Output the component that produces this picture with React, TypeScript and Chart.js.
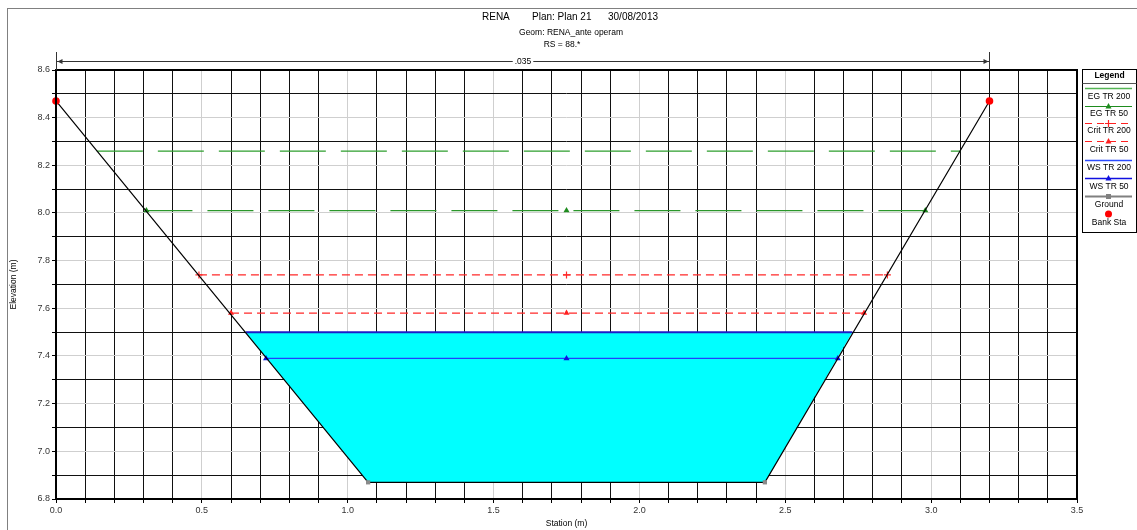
import React, { useEffect, useRef } from "react";
import { Chart, registerables } from "chart.js";

Chart.register(...registerables);

// ---- data ----
const groundStation = [0.0, 1.07, 2.43, 3.2];
const groundElev = [8.47, 6.87, 6.87, 8.47];
const bankStation = [0.0, 3.2];
const bankElev = [8.47, 8.47];
const wsTR200Station = [0.65, 2.73];
const wsTR200Elev = [7.5, 7.5];
const wsTR50Station = [0.72, 1.75, 2.68];
const wsTR50Elev = [7.39, 7.39, 7.39];
const critTR200Station = [0.49, 1.75, 2.85];
const critTR200Elev = [7.74, 7.74, 7.74];
const critTR50Station = [0.6, 1.75, 2.77];
const critTR50Elev = [7.58, 7.58, 7.58];
const egTR200Station = [0.14, 1.75, 3.1];
const egTR200Elev = [8.26, 8.26, 8.26];
const egTR50Station = [0.31, 1.75, 2.98];
const egTR50Elev = [8.01, 8.01, 8.01];
const manningN = ".035";
const titleParts = ["RENA", "Plan: Plan 21", "30/08/2013"];
const subtitle1 = "Geom: RENA_ante operam";
const subtitle2 = "RS = 88.*";
const xTitle = "Station (m)";
const yTitle = "Elevation (m)";
const legendLabels = ["EG TR 200", "EG TR 50", "Crit TR 200", "Crit TR 50", "WS TR 200", "WS TR 50", "Ground", "Bank Sta"];

const pts = (xs: number[], ys: number[]) => xs.map((x, i) => ({ x, y: ys[i] }));

const FONT = "'Liberation Sans', Arial, sans-serif";

const isMult = (v: number, m: number) => Math.abs(v / m - Math.round(v / m)) < 1e-6;

const overlay = {
  id: "overlay",
  beforeDraw(chart: any) {
    const ctx = chart.ctx;
    ctx.save();
    ctx.fillStyle = "#fff";
    ctx.fillRect(0, 0, chart.width, chart.height);
    ctx.restore();
  },
  afterDraw(chart: any) {
    const ctx = chart.ctx as CanvasRenderingContext2D;
    const { left, right, top, bottom } = chart.chartArea;
    const xs = chart.scales.x;
    ctx.save();
    // outer frame
    ctx.strokeStyle = "#808080";
    ctx.lineWidth = 1;
    ctx.strokeRect(7.5, 8.5, 1300, 700);
    // plot border
    ctx.strokeStyle = "#000";
    ctx.lineWidth = 2;
    ctx.strokeRect(left, top, right - left, bottom - top);

    // titles
    ctx.fillStyle = "#000";
    ctx.textBaseline = "middle";
    ctx.textAlign = "left";
    ctx.font = `10px ${FONT}`;
    ctx.fillText(titleParts[0], 482, 17);
    ctx.fillText(titleParts[1], 532, 17);
    ctx.fillText(titleParts[2], 608, 17);
    ctx.textAlign = "center";
    ctx.font = `8.5px ${FONT}`;
    ctx.fillText(subtitle1, 571, 33);
    ctx.fillText(subtitle2, 562, 45);

    // axis titles
    ctx.font = `8.5px ${FONT}`;
    ctx.fillText(xTitle, (left + right) / 2, 524);
    ctx.save();
    ctx.translate(14, (top + bottom) / 2);
    ctx.rotate(-Math.PI / 2);
    ctx.fillText(yTitle, 0, 0);
    ctx.restore();

    // Manning's n arrow between bank stations
    const xl = Math.round(xs.getPixelForValue(bankStation[0])) + 0.5;
    const xr = Math.round(xs.getPixelForValue(bankStation[1])) + 0.5;
    const ya = 61.5;
    ctx.strokeStyle = "#333";
    ctx.lineWidth = 1;
    ctx.beginPath();
    ctx.moveTo(xl, 52);
    ctx.lineTo(xl, top);
    ctx.moveTo(xr, 52);
    ctx.lineTo(xr, top);
    ctx.moveTo(xl, ya);
    ctx.lineTo(xr, ya);
    ctx.stroke();
    ctx.fillStyle = "#333";
    ctx.beginPath();
    ctx.moveTo(xl + 1, ya);
    ctx.lineTo(xl + 6, ya - 2.5);
    ctx.lineTo(xl + 6, ya + 2.5);
    ctx.closePath();
    ctx.moveTo(xr - 1, ya);
    ctx.lineTo(xr - 6, ya - 2.5);
    ctx.lineTo(xr - 6, ya + 2.5);
    ctx.closePath();
    ctx.fill();
    const cx = (xl + xr) / 2;
    ctx.font = `8.5px ${FONT}`;
    const tw = ctx.measureText(manningN).width;
    ctx.fillStyle = "#fff";
    ctx.fillRect(cx - tw / 2 - 2, ya - 4, tw + 4, 8);
    ctx.fillStyle = "#000";
    ctx.textAlign = "center";
    ctx.fillText(manningN, cx, ya + 0.5);

    // legend box
    const bx = 1082.5, by = 69.5, bw = 54, bh = 163;
    ctx.fillStyle = "#fff";
    ctx.fillRect(bx, by, bw, bh);
    ctx.strokeStyle = "#000";
    ctx.lineWidth = 1;
    ctx.strokeRect(bx, by, bw, bh);
    ctx.fillStyle = "#000";
    ctx.font = `bold 8.5px ${FONT}`;
    ctx.fillText("Legend", bx + bw / 2, 76);
    ctx.strokeStyle = "#555";
    ctx.beginPath();
    ctx.moveTo(bx, 83.5);
    ctx.lineTo(bx + bw, 83.5);
    ctx.stroke();

    const lx0 = 1085, lx1 = 1132, lcx = 1108.5;
    const lineYs = [88, 106, 123, 141, 160, 178, 196, 214];
    const textYs = [97, 114, 131, 150, 168, 187, 205, 223];
    const tri = (x: number, y: number, c: string) => {
      ctx.fillStyle = c;
      ctx.beginPath();
      ctx.moveTo(x, y - 3);
      ctx.lineTo(x + 3, y + 2.5);
      ctx.lineTo(x - 3, y + 2.5);
      ctx.closePath();
      ctx.fill();
    };
    const seg = (y: number, c: string, w: number, dash: number[]) => {
      ctx.strokeStyle = c;
      ctx.lineWidth = w;
      ctx.setLineDash(dash);
      ctx.beginPath();
      ctx.moveTo(lx0, y + 0.5);
      ctx.lineTo(lx1, y + 0.5);
      ctx.stroke();
      ctx.setLineDash([]);
    };
    seg(lineYs[0], "#55b555", 1.5, []);
    seg(lineYs[1], "#1e8c1e", 1.2, []);
    tri(lcx, lineYs[1], "#1e8c1e");
    seg(lineYs[2], "#ff2020", 1.2, [7, 5]);
    ctx.strokeStyle = "#ff2020";
    ctx.lineWidth = 1.2;
    ctx.beginPath();
    ctx.moveTo(lcx, lineYs[2] - 3);
    ctx.lineTo(lcx, lineYs[2] + 4);
    ctx.moveTo(lcx - 3.5, lineYs[2] + 0.5);
    ctx.lineTo(lcx + 3.5, lineYs[2] + 0.5);
    ctx.stroke();
    seg(lineYs[3], "#ff2020", 1.2, [7, 5]);
    tri(lcx, lineYs[3], "#ff2020");
    seg(lineYs[4], "#2b4bff", 1.5, []);
    seg(lineYs[5], "#1010e0", 1.5, []);
    tri(lcx, lineYs[5], "#1010e0");
    seg(lineYs[6], "#808080", 2, []);
    ctx.fillStyle = "#808080";
    ctx.fillRect(lcx - 2.5, lineYs[6] - 2, 5, 5);
    ctx.fillStyle = "#ff0000";
    ctx.beginPath();
    ctx.arc(lcx, lineYs[7], 3.5, 0, Math.PI * 2);
    ctx.fill();

    ctx.fillStyle = "#000";
    ctx.font = `8.5px ${FONT}`;
    ctx.textAlign = "center";
    legendLabels.forEach((t, i) => ctx.fillText(t, lcx + 0.5, textYs[i]));
    ctx.restore();
  },
};

export default function App() {
  const ref = useRef<HTMLCanvasElement>(null);
  useEffect(() => {
    Chart.defaults.font.family = FONT;
    const fillPoly = [
      { x: wsTR200Station[0], y: wsTR200Elev[0] },
      { x: groundStation[1], y: groundElev[1] },
      { x: groundStation[2], y: groundElev[2] },
      { x: wsTR200Station[1], y: wsTR200Elev[1] },
    ];
    const chart = new Chart(ref.current!, {
      type: "scatter",
      data: {
        datasets: [
          {
            label: "Bank Sta",
            data: pts(bankStation, bankElev),
            showLine: false,
            pointRadius: 3.8,
            pointBackgroundColor: "#ff0000",
            pointBorderWidth: 0,
            clip: false,
            order: 0,
          } as any,
          {
            label: "Ground",
            data: pts(groundStation, groundElev),
            showLine: true,
            borderColor: "#000",
            borderWidth: 1.2,
            pointStyle: "rect",
            pointRadius: 3,
            pointBackgroundColor: "#8a8a8a",
            pointBorderWidth: 0,
            clip: false,
            order: 1,
          } as any,
          {
            label: "WS TR 200",
            data: pts(wsTR200Station, wsTR200Elev),
            showLine: true,
            borderColor: "#1c1cc8",
            borderWidth: 2,
            pointRadius: 0,
            order: 2,
          },
          {
            label: "WS TR 50",
            data: pts(wsTR50Station, wsTR50Elev),
            showLine: true,
            borderColor: "#2040ff",
            borderWidth: 1.3,
            pointStyle: "triangle",
            pointRadius: 3.5,
            pointBackgroundColor: "#1010e0",
            pointBorderWidth: 0,
            order: 3,
          },
          {
            label: "Crit TR 200",
            data: pts(critTR200Station, critTR200Elev),
            showLine: true,
            borderColor: "#ff2828",
            borderWidth: 1.3,
            borderDash: [8, 5],
            pointStyle: "cross",
            pointRadius: 3.5,
            pointBorderColor: "#ff2828",
            pointBorderWidth: 1.2,
            order: 4,
          },
          {
            label: "Crit TR 50",
            data: pts(critTR50Station, critTR50Elev),
            showLine: true,
            borderColor: "#ff2828",
            borderWidth: 1.3,
            borderDash: [8, 5],
            pointStyle: "triangle",
            pointRadius: 3.5,
            pointBackgroundColor: "#ff2020",
            pointBorderWidth: 0,
            order: 5,
          },
          {
            label: "EG TR 200",
            data: pts(egTR200Station, egTR200Elev),
            showLine: true,
            borderColor: "#2e9e2e",
            borderWidth: 1.3,
            borderDash: [46, 15],
            pointRadius: 0,
            order: 6,
          },
          {
            label: "EG TR 50",
            data: pts(egTR50Station, egTR50Elev),
            showLine: true,
            borderColor: "#2a962a",
            borderWidth: 1.3,
            borderDash: [46, 15],
            pointStyle: "triangle",
            pointRadius: 3.5,
            pointBackgroundColor: "#1e8c1e",
            pointBorderWidth: 0,
            order: 7,
          },
          {
            label: "fill",
            data: fillPoly,
            showLine: true,
            borderWidth: 0,
            borderColor: "rgba(0,0,0,0)",
            backgroundColor: "#00ffff",
            fill: "shape",
            pointRadius: 0,
            order: 10,
          } as any,
        ],
      },
      options: {
        animation: false,
        responsive: false,
        layout: { padding: { left: 0, top: 70, right: 60, bottom: 0 } },
        plugins: {
          legend: { display: false },
          title: { display: false },
          tooltip: { enabled: false },
        },
        elements: { line: { tension: 0 } },
        scales: {
          x: {
            type: "linear",
            min: 0,
            max: 3.5,
            afterFit: (s: any) => {
              s.height = 31;
            },
            border: { display: false },
            grid: {
              color: (c: any) => (isMult(c.tick.value, 0.5) ? "#cfcfcf" : "#111"),
              tickColor: "#000",
              tickLength: 4,
            },
            ticks: {
              stepSize: 0.1,
              autoSkip: false,
              maxRotation: 0,
              padding: 2,
              color: "#333",
              font: { size: 9 },
              callback: (v: any) => (isMult(Number(v), 0.5) ? Number(v).toFixed(1) : ""),
            },
          },
          y: {
            type: "linear",
            min: 6.8,
            max: 8.6,
            afterFit: (s: any) => {
              s.width = 56;
            },
            border: { display: false },
            grid: {
              color: (c: any) => (isMult(c.tick.value - 6.8, 0.2) ? "#cfcfcf" : "#111"),
              tickColor: "#000",
              tickLength: 4,
            },
            ticks: {
              stepSize: 0.1,
              autoSkip: false,
              padding: 2,
              color: "#333",
              font: { size: 9 },
              callback: (v: any) => (isMult(Number(v) - 6.8, 0.2) ? Number(v).toFixed(1) : ""),
            },
          },
        },
      },
      plugins: [overlay],
    });
    return () => chart.destroy();
  }, []);
  return (
    <div style={{ position: "absolute", left: 0, top: 0, width: 1137, height: 530 }}>
      <canvas ref={ref} width={1137} height={530} style={{ display: "block", width: 1137, height: 530 }} />
    </div>
  );
}
